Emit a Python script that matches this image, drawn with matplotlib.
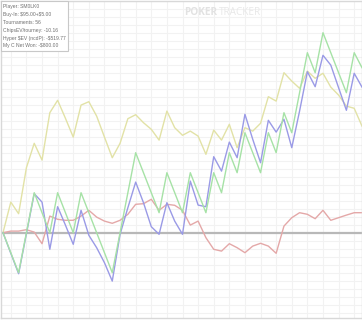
import matplotlib
matplotlib.use("Agg")
import matplotlib.pyplot as plt
import numpy as np

# cumulative results in buy-ins, one point per tournament
chipsev = [0, 1.53, 0.95, 3.25, 4.47, 3.63, 6.0, 6.62, 5.72, 4.78, 6.38, 6.55, 5.83, 4.78, 3.75,
           4.47, 5.7, 5.9, 5.5, 5.17, 4.63, 6.08, 5.25, 4.87, 5.08, 4.83, 3.92, 5.13, 4.63, 5.42,
           4.25, 5.25, 5.08, 5.47, 6.8, 6.58, 8.0, 7.58, 7.22, 8.08, 7.72, 7.97, 7.28, 6.88, 6.33,
           6.22, 5.33]
net_won = [0, -1, -2, 0, 2, 1, 0, 2, 1, 0, 2, 1, 0, -1, -2, 0, 2, 4, 3, 2, 1, 3, 2, 1, 3, 2, 1,
           3, 2, 4, 3, 5, 4, 3, 5, 4, 6, 5, 7, 9, 8, 10, 9, 8, 7, 9, 8.25]
hyper_sev = [0, -1.03, -2.05, -0.05, 1.95, 1.53, -0.83, 1.3, 0.38, -0.58, 1.12, -0.13, -0.75,
             -1.5, -2.42, -0.08, 1.25, 2.53, 1.5, 0.3, -0.08, 1.5, 0.58, -0.08, 2.58, 1.38, 1.3,
             3.8, 3.08, 4.53, 3.75, 5.92, 4.67, 3.5, 5.62, 5.03, 5.67, 4.25, 6.08, 8.05, 7.3,
             8.87, 8.38, 7.25, 6.12, 7.97, 7.28]
my_c = [0, 0.08, 0.08, 0.15, 0.03, -0.55, 0.83, 0.67, 0.62, 0.62, 0.83, 1.12, 0.78, 0.58, 0.47,
        0.62, 0.92, 1.42, 1.45, 1.67, 1.12, 1.42, 1.37, 1.12, 0.38, 0.58, -0.25, -0.83, -0.92,
        -0.55, -0.75, -1.0, -0.67, -0.53, -0.67, -1.03, 0.33, 0.75, 1.0, 0.92, 0.7, 1.12, 0.62,
        0.75, 0.88, 1.0, 1.0]

info_lines = ["Player: SM0LK0", "Buy-In: \\$95.00+\\$5.00", "Tournaments: 56",
              "ChipsEV/tourney: -10.16", "Hyper \\$EV (ncdP): -\\$519.77", "My C Net Won: -\\$800.00"]

W, H = 362, 320
fig = plt.figure(figsize=(W / 100, H / 100), dpi=100)
fig.patch.set_facecolor("white")
ax = fig.add_axes([1 / W, 2 / H, 361 / W, 317 / H])
ax.set_facecolor("white")

x = np.arange(len(net_won))
px_per_x = 7.8
ax.set_xlim(-2 / px_per_x, len(x) - 1)
unit = 20.0
ax.set_ylim(-(317 - 231.7) / unit, 231.7 / unit)

# grid
for gx in np.arange(1, len(x), 2):
    ax.axvline(gx, color="#f2f2f2", lw=0.8, zorder=0)
for gy in np.arange(-4.0, 12.0, 0.4):
    ax.axhline(gy, color="#f2f2f2", lw=0.8, zorder=0)

ax.axhline(0, color="#b8b8b8", lw=1.6, zorder=1)

ax.plot(x, chipsev, color="#e2e2a6", lw=1.0, zorder=2)
ax.plot(x, my_c, color="#e4a8a8", lw=1.0, zorder=2)
ax.plot(x, hyper_sev, color="#9a9ae6", lw=1.0, zorder=3)
ax.plot(x, net_won, color="#a6e2a6", lw=1.0, zorder=4)

ax.set_xticks([])
ax.set_yticks([])
for s in ax.spines.values():
    s.set_color("#d8d8d8")
    s.set_linewidth(1.0)

# watermark
fig.text(184 / W, 1 - 12.7 / H, "POKER", fontsize=7.2, fontweight="bold", color="#e2e2e2",
         ha="left", va="center", family="Open Sans")
fig.text(219 / W, 1 - 12.7 / H, "TRACKER", fontsize=7.2, color="#e8e8e8",
         ha="left", va="center", family="Open Sans")

# info box
box = plt.Rectangle((1 / W, 1 - 50.5 / H), 66.5 / W, 49 / H, transform=fig.transFigure,
                    facecolor="white", edgecolor="#c8c8c8", lw=0.8, zorder=10)
fig.patches.append(box)
ys = [6.7, 14.7, 22.7, 30.7, 38.3, 46.0]
for t, yy in zip(info_lines, ys):
    fig.text(3 / W, 1 - yy / H, t, fontsize=3.6, color="#707070", ha="left", va="center",
             zorder=11, family="Liberation Sans")

fig.savefig("out.png", dpi=100)
